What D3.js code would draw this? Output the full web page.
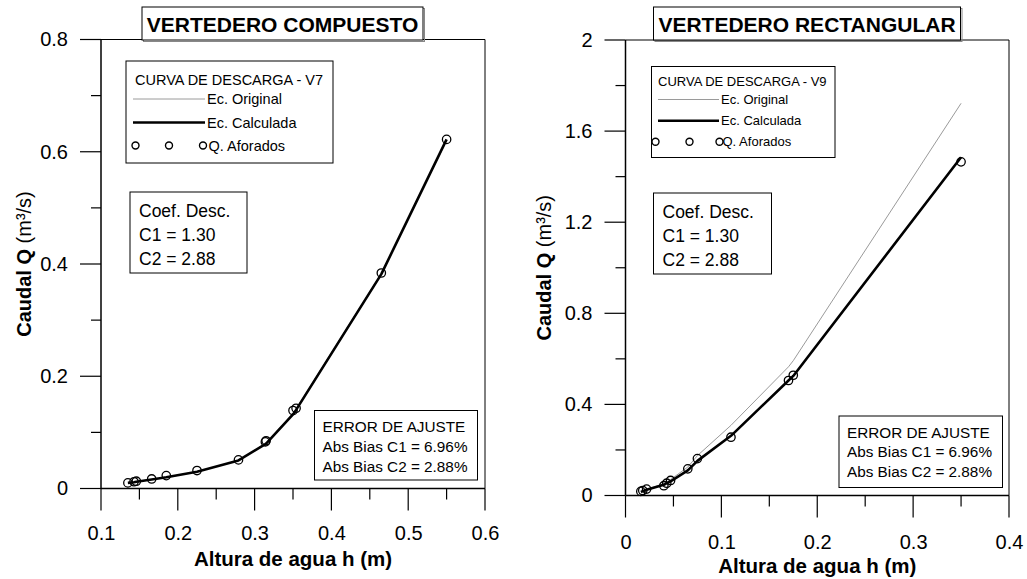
<!DOCTYPE html>
<html>
<head>
<meta charset="utf-8">
<script src="https://cdn.jsdelivr.net/npm/d3@7"></script>
<style>
  body { margin: 0; background: #fff; }
  svg { display: block; font-family: Arial, "Liberation Sans", Helvetica, sans-serif; }
</style>
</head>
<body>
<svg id="chart" width="1027" height="579"></svg>
<script>
// ---- Vertedero compuesto (V7) ----
const compH          = [0.135, 0.143, 0.146, 0.166, 0.185, 0.225, 0.279, 0.314, 0.315, 0.350, 0.354, 0.465, 0.550];
const compQAforados  = [0.010, 0.012, 0.013, 0.017, 0.023, 0.032, 0.051, 0.083, 0.085, 0.139, 0.143, 0.384, 0.622];
const compQCalculada = [0.010, 0.011, 0.012, 0.016, 0.020, 0.030, 0.050, 0.079, 0.080, 0.132, 0.140, 0.382, 0.622];
const compQOriginal  = [0.010, 0.011, 0.012, 0.016, 0.020, 0.030, 0.050, 0.080, 0.081, 0.134, 0.142, 0.383, 0.620];

// ---- Vertedero rectangular (V9) ----
const rectH          = [0.016, 0.018, 0.022, 0.040, 0.043, 0.047, 0.065, 0.075, 0.110, 0.170, 0.175, 0.350];
const rectQAforados  = [0.018, 0.022, 0.028, 0.043, 0.054, 0.066, 0.117, 0.162, 0.256, 0.505, 0.528, 1.465];
const rectQCalculada = [0.016, 0.019, 0.025, 0.047, 0.054, 0.062, 0.110, 0.152, 0.262, 0.505, 0.525, 1.485];
const rectQOriginal  = [0.018, 0.021, 0.027, 0.052, 0.060, 0.070, 0.125, 0.175, 0.308, 0.565, 0.592, 1.722];

// ---- Ticks ----
const compXMajor = [0.1, 0.2, 0.3, 0.4, 0.5, 0.6];
const compXLabels = ["0.1", "0.2", "0.3", "0.4", "0.5", "0.6"];
const compXMinor = [0.15, 0.25, 0.35, 0.45, 0.55];
const compYMajor = [0, 0.2, 0.4, 0.6, 0.8];
const compYLabels = ["0", "0.2", "0.4", "0.6", "0.8"];
const compYMinor = [0.1, 0.3, 0.5, 0.7];

const rectXMajor = [0, 0.1, 0.2, 0.3, 0.4];
const rectXLabels = ["0", "0.1", "0.2", "0.3", "0.4"];
const rectXMinor = [0.05, 0.15, 0.25, 0.35];
const rectYMajor = [0, 0.4, 0.8, 1.2, 1.6, 2];
const rectYLabels = ["0", "0.4", "0.8", "1.2", "1.6", "2"];
const rectYMinor = [0.2, 0.6, 1.0, 1.4, 1.8];

// ---- Texts ----
const compTitle = "VERTEDERO COMPUESTO";
const rectTitle = "VERTEDERO RECTANGULAR";
const compLegendTitle = "CURVA DE DESCARGA - V7";
const rectLegendTitle = "CURVA DE DESCARGA - V9";
const legendItems = ["Ec. Original", "Ec. Calculada", "Q. Aforados"];
const coefLines = ["Coef. Desc.", "C1 = 1.30", "C2 = 2.88"];
const errorLines = ["ERROR DE AJUSTE", "Abs Bias C1 = 6.96%", "Abs Bias C2 = 2.88%"];
const xAxisTitle = "Altura de agua h (m)";

const svg = d3.select("#chart");
const FONT = 'Arial, "Liberation Sans", Helvetica, sans-serif';

function drawPanel(p) {
  const g = svg.append("g");
  const x = d3.scaleLinear().domain(p.xDomain).range([p.left, p.right]);
  const y = d3.scaleLinear().domain(p.yDomain).range([p.bottom, p.top]);

  // frame (top + right)
  g.append("path")
    .attr("d", `M${p.left},${p.top}H${p.right}V${p.bottom}`)
    .attr("fill", "none").attr("stroke", "#000").attr("stroke-width", 1);

  // tick marks, outward from the axes
  const tickLine = (x1, y1, x2, y2) =>
    g.append("line").attr("x1", x1).attr("y1", y1).attr("x2", x2).attr("y2", y2)
      .attr("stroke", "#000").attr("stroke-width", 1.2);
  p.xMajor.forEach(v => tickLine(x(v), p.bottom, x(v), p.bottom + 22));
  p.xMinor.forEach(v => tickLine(x(v), p.bottom, x(v), p.bottom + 11));
  p.yMajor.forEach(v => tickLine(p.left - 21, y(v), p.left, y(v)));
  p.yMinor.forEach(v => tickLine(p.left - 10, y(v), p.left, y(v)));

  const styleAxis = sel => {
    sel.select(".domain").remove();
    sel.selectAll(".tick line").remove();
    sel.selectAll("text").attr("font-family", FONT).attr("font-size", 20).attr("fill", "#000");
    sel.attr("font-family", null).attr("font-size", null);
  };

  // tick labels
  g.append("g").attr("transform", `translate(0,${p.bottom})`)
    .call(d3.axisBottom(x).tickValues(p.xMajor).tickSize(0).tickPadding(22 + p.xPad)
      .tickFormat((d, i) => p.xLabels[i]))
    .call(styleAxis);
  g.append("g").attr("transform", `translate(${p.left},0)`)
    .call(d3.axisLeft(y).tickValues(p.yMajor).tickSize(0).tickPadding(33)
      .tickFormat((d, i) => p.yLabels[i]))
    .call(styleAxis);

  // axis lines
  g.append("line").attr("x1", p.left).attr("x2", p.right).attr("y1", p.bottom).attr("y2", p.bottom)
    .attr("stroke", "#000").attr("stroke-width", 1.5);
  g.append("line").attr("x1", p.left).attr("x2", p.left).attr("y1", p.top).attr("y2", p.bottom)
    .attr("stroke", "#000").attr("stroke-width", 1.5);

  // curves
  const line = d3.line().x(d => x(d[0])).y(d => y(d[1]));
  g.append("path").datum(d3.zip(p.h, p.qOrig))
    .attr("d", line).attr("fill", "none").attr("stroke", "#9a9a9a").attr("stroke-width", 1);
  g.append("path").datum(d3.zip(p.h, p.qCalc))
    .attr("d", line).attr("fill", "none").attr("stroke", "#000").attr("stroke-width", 2.6)
    .attr("stroke-linejoin", "round");
  g.append("g").selectAll("circle").data(d3.zip(p.h, p.qObs)).join("circle")
    .attr("cx", d => x(d[0])).attr("cy", d => y(d[1])).attr("r", 4.2)
    .attr("fill", "none").attr("stroke", "#000").attr("stroke-width", 1.3);

  // title box
  const tb = p.titleBox;
  g.append("rect").attr("x", tb.x + 1.5).attr("y", tb.y + 1.5).attr("width", tb.w).attr("height", tb.h)
    .attr("fill", "none").attr("stroke", "#888").attr("stroke-width", 1);
  g.append("rect").attr("x", tb.x).attr("y", tb.y).attr("width", tb.w).attr("height", tb.h)
    .attr("fill", "#fff").attr("stroke", "#000").attr("stroke-width", 1);
  g.append("text").attr("x", tb.x + tb.w / 2).attr("y", tb.y + 25).attr("text-anchor", "middle")
    .attr("font-size", 21).attr("font-weight", "bold").text(p.title);

  // legend box
  const lb = p.legendBox;
  g.append("rect").attr("x", lb.x).attr("y", lb.y).attr("width", lb.w).attr("height", lb.h)
    .attr("fill", "#fff").attr("stroke", "#000").attr("stroke-width", 1);
  g.append("text").attr("x", lb.textX0).attr("y", lb.rows[0] + lb.fs * 0.36)
    .attr("font-size", lb.fs).text(p.legendTitle);
  g.append("line").attr("x1", lb.lineX0).attr("x2", lb.lineX1).attr("y1", lb.rows[1]).attr("y2", lb.rows[1])
    .attr("stroke", "#9a9a9a").attr("stroke-width", 1);
  g.append("line").attr("x1", lb.lineX0).attr("x2", lb.lineX1).attr("y1", lb.rows[2]).attr("y2", lb.rows[2])
    .attr("stroke", "#000").attr("stroke-width", 2.6);
  g.append("g").selectAll("circle").data(lb.circleX).join("circle")
    .attr("cx", d => d).attr("cy", lb.rows[3]).attr("r", 3.5)
    .attr("fill", "none").attr("stroke", "#000").attr("stroke-width", 1.4);
  legendItems.forEach((t, i) => {
    g.append("text").attr("x", lb.textX1 + (i === 2 ? 1.5 : 0)).attr("y", lb.rows[i + 1] + lb.fs * 0.36)
      .attr("font-size", lb.fs).text(t);
  });

  // coefficient box
  const cb = p.coefBox;
  g.append("rect").attr("x", cb.x).attr("y", cb.y).attr("width", cb.w).attr("height", cb.h)
    .attr("fill", "#fff").attr("stroke", "#000").attr("stroke-width", 1);
  coefLines.forEach((t, i) => {
    g.append("text").attr("x", cb.x + 9).attr("y", cb.y + 25 + i * 24)
      .attr("font-size", 17.5).text(t);
  });

  // fit error box
  const eb = p.errorBox;
  g.append("rect").attr("x", eb.x).attr("y", eb.y).attr("width", eb.w).attr("height", eb.h)
    .attr("fill", "#fff").attr("stroke", "#000").attr("stroke-width", 1);
  errorLines.forEach((t, i) => {
    g.append("text").attr("x", eb.x + 8).attr("y", eb.y + 21.5 + i * 19.8)
      .attr("font-size", 15.3).text(t);
  });

  // axis titles
  g.append("text").attr("x", (p.left + p.right) / 2).attr("y", p.xTitleY)
    .attr("text-anchor", "middle").attr("font-size", 20.5).attr("font-weight", "bold").text(xAxisTitle);
  const yt = g.append("text")
    .attr("transform", `translate(${p.yTitleX},${(p.top + p.bottom) / 2}) rotate(-90)`)
    .attr("text-anchor", "middle").attr("font-size", 20);
  yt.append("tspan").attr("font-weight", "bold").text("Caudal Q ");
  yt.append("tspan").text("(m³/s)");
}

drawPanel({
  xDomain: [0.1, 0.6], yDomain: [0, 0.8],
  left: 101, right: 485, top: 39.5, bottom: 488.5,
  xMajor: compXMajor, xLabels: compXLabels, xMinor: compXMinor, xPad: 15,
  yMajor: compYMajor, yLabels: compYLabels, yMinor: compYMinor,
  h: compH, qObs: compQAforados, qCalc: compQCalculada, qOrig: compQOriginal,
  title: compTitle, titleBox: { x: 142, y: 7, w: 281, h: 33 },
  legendTitle: compLegendTitle,
  legendBox: { x: 126, y: 61, w: 207, h: 102, fs: 14.5, rows: [80, 99, 122.5, 145.5],
               textX0: 135, textX1: 207, lineX0: 133, lineX1: 205, circleX: [135.5, 169, 203] },
  coefBox: { x: 130, y: 192, w: 117, h: 81 },
  errorBox: { x: 314.5, y: 410.5, w: 163, h: 69.5 },
  xTitleY: 566, yTitleX: 31
});

drawPanel({
  xDomain: [0, 0.4], yDomain: [0, 2],
  left: 625.5, right: 1009, top: 40, bottom: 495.5,
  xMajor: rectXMajor, xLabels: rectXLabels, xMinor: rectXMinor, xPad: 17,
  yMajor: rectYMajor, yLabels: rectYLabels, yMinor: rectYMinor,
  h: rectH, qObs: rectQAforados, qCalc: rectQCalculada, qOrig: rectQOriginal,
  title: rectTitle, titleBox: { x: 653.5, y: 7, w: 307, h: 33 },
  legendTitle: rectLegendTitle,
  legendBox: { x: 651.5, y: 66.5, w: 183.5, h: 91, fs: 13, rows: [81.7, 99.5, 120.7, 141.7],
               textX0: 658, textX1: 721, lineX0: 658, lineX1: 719, circleX: [655.5, 689.5, 719.5] },
  coefBox: { x: 653.5, y: 193, w: 118, h: 81 },
  errorBox: { x: 839, y: 416, w: 163.5, h: 71.5 },
  xTitleY: 573, yTitleX: 551
});
</script>
</body>
</html>
